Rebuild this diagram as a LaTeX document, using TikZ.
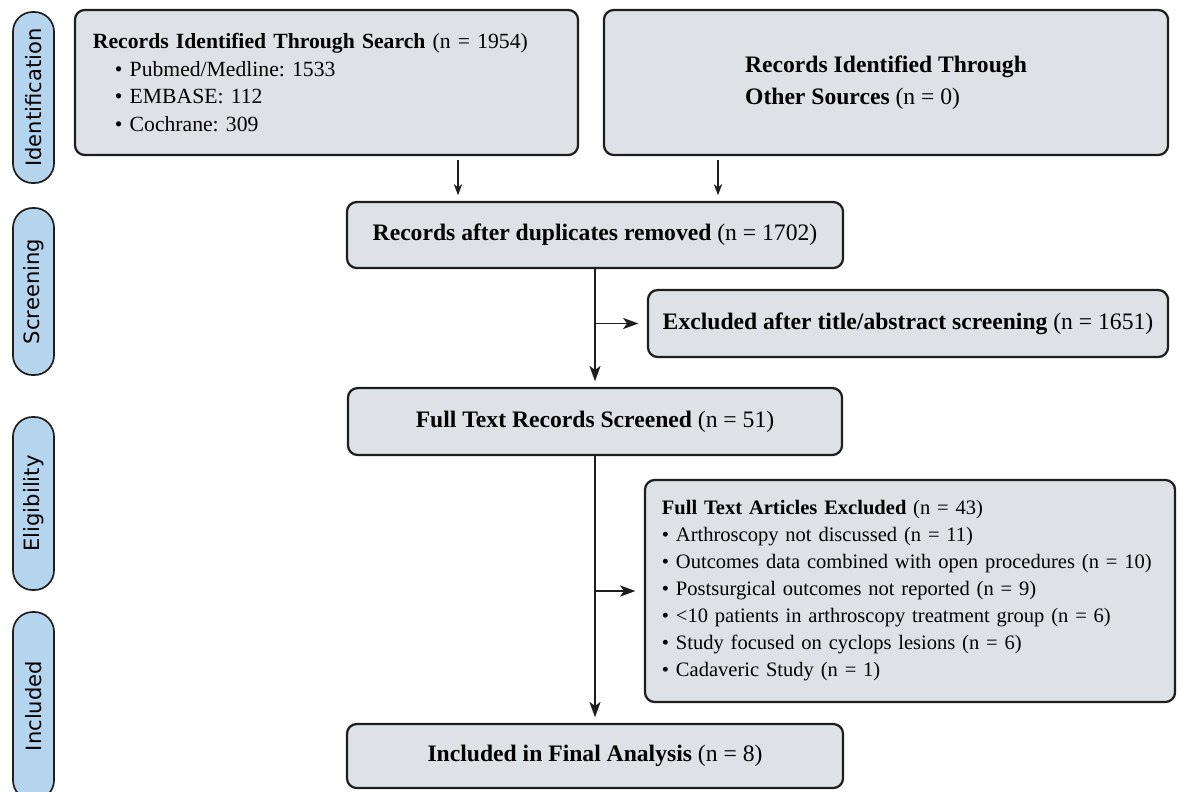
\documentclass[tikz,border=0pt]{standalone}
\usepackage{fontspec}
\setmainfont{Liberation Serif}
\setsansfont{DejaVu Sans}
\usetikzlibrary{arrows.meta}
\definecolor{boxgray}{RGB}{222,226,230}
\definecolor{stageblue}{RGB}{181,213,238}
\definecolor{edge}{RGB}{30,30,30}
\frenchspacing

\begin{document}
\begin{tikzpicture}[x=0.025cm,y=-0.025cm,font=\fontsize{16.8}{20}\selectfont]
\tikzstyle{box}=[draw=edge,fill=boxgray,line width=1.6pt,rounded corners=7pt,inner sep=0pt]
\tikzstyle{list}=[font=\fontsize{14.6}{19.2}\selectfont,align=left]
\tikzstyle{stage}=[draw=edge,fill=stageblue,line width=1.2pt,rounded corners=14pt,rotate=90,minimum height=1.025cm,inner sep=0pt,font=\sffamily\fontsize{15}{18}\selectfont]
\tikzstyle{arr}=[-{Stealth[length=11pt,width=8pt,inset=3pt]},line width=0.9pt,edge,shorten >=4pt]
\tikzstyle{arrs}=[-{Stealth[length=8pt,width=6pt,inset=2.5pt]},line width=0.9pt,edge,shorten <=3pt,shorten >=4pt]
\path [use as bounding box,fill=white] (0,0) rectangle (1182,791);

    % stages
    \node [stage,minimum width=4.275cm] (s1) at (33.5,97.5) {Identification};
    \node [stage,minimum width=4.175cm] (s2) at (33.5,291.5) {Screening};
    \node [stage,minimum width=4.325cm] (s3) at (33.5,503.5) {Eligibility};
    \node [stage,minimum width=4.7cm] (s4) at (33.5,706) {Included};

    % boxes
    \node [box,list,font=\fontsize{15.4}{19.6}\selectfont,minimum width=12.575cm,minimum height=3.625cm,text width=11.675cm] (a) at (326.5,82.5)
        {\textbf{Records Identified Through Search} (n = 1954)\\
         \hspace*{0.55cm}\textbullet\ Pubmed/Medline: 1533\\
         \hspace*{0.55cm}\textbullet\ EMBASE: 112\\
         \hspace*{0.55cm}\textbullet\ Cochrane: 309};
    \node [box,minimum width=14.1cm,minimum height=3.625cm,align=left,font=\fontsize{16.8}{23}\selectfont] (b) at (886,82.5)
        {\textbf{Records Identified Through}\\\textbf{Other Sources} (n = 0)};
    \node [box,minimum width=12.4cm,minimum height=1.65cm] (c) at (595,235)
        {\textbf{Records after duplicates removed} (n = 1702)};
    \node [box,minimum width=13cm,minimum height=1.675cm] (d) at (908,323.5)
        {\textbf{Excluded after title/abstract screening} (n = 1651)};
    \node [box,minimum width=12.35cm,minimum height=1.675cm] (e) at (595,421.5)
        {\textbf{Full Text Records Screened} (n = 51)};
    \node [box,list,minimum width=13.25cm,minimum height=5.55cm,text width=12.4cm] (f) at (910,591)
        {\textbf{Full Text Articles Excluded} (n = 43)\\
         \textbullet\ Arthroscopy not discussed (n = 11)\\
         \textbullet\ Outcomes data combined with open procedures (n = 10)\\
         \textbullet\ Postsurgical outcomes not reported (n = 9)\\
         \textbullet\ <10 patients in arthroscopy treatment group (n = 6)\\
         \textbullet\ Study focused on cyclops lesions (n = 6)\\
         \textbullet\ Cadaveric Study (n = 1)};
    \node [box,minimum width=12.4cm,minimum height=1.6cm] (g) at (595,756)
        {\textbf{Included in Final Analysis} (n = 8)};

    % connectors
    \coordinate (xa) at (458,0);
    \coordinate (xb) at (718,0);
    \draw [arrs] (a.south -| xa) -- (c.north -| xa);
    \draw [arrs] (b.south -| xb) -- (c.north -| xb);
    \draw [arr] (c.south) -- (e.north);
    \draw [arr,shorten >=6pt] (c.south |- d.west) -- (d.west);
    \draw [arr] (e.south) -- (g.north);
    \draw [arr,shorten >=6pt] (e.south |- f.west) -- (f.west);
\end{tikzpicture}
\end{document}
